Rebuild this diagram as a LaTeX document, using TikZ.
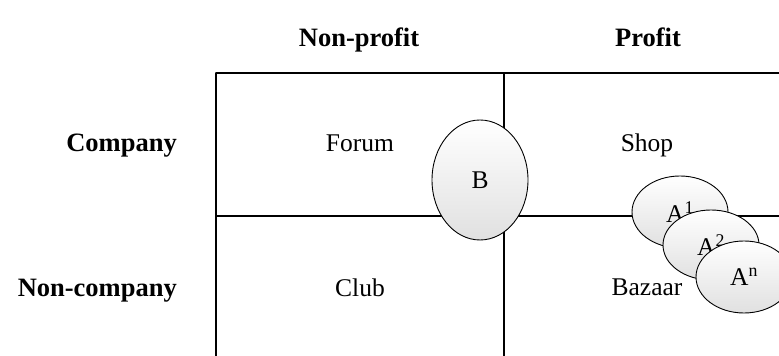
\documentclass[tikz,border=0pt]{standalone}
\usepackage{fontspec}
\setmainfont{Liberation Serif}
\usetikzlibrary{shapes.geometric}
\begin{document}
\begin{tikzpicture}[x=1pt, y=1pt, line cap=round, line join=round,
    font=\fontsize{25.5}{30}\selectfont,
    cabecera/.style={font=\fontsize{26.5}{31}\selectfont\bfseries, anchor=base, inner sep=0pt},
    casilla/.style={anchor=base},
    burbuja/.style={ellipse, draw, line width=0.9pt, inner sep=0pt,
      top color=white, bottom color=black!12,
      minimum width=96, minimum height=72}]
  \useasboundingbox (0,0) rectangle (779,356);
  % la rejilla
  \draw[line width=1.3pt] (216,283) -- (779,283);
  \draw[line width=1.3pt] (216,140) -- (779,140);
  \draw[line width=1.3pt] (216,283) -- (216,0);
  \draw[line width=1.3pt] (504,283) -- (504,0);
  % cabeceras de columnas y filas
  \node[cabecera] (nonprofit) at (359,309) {Non-profit};
  \node[cabecera] (profit) at (648,309) {Profit};
  \node[cabecera, anchor=base east] (company) at (177,204) {Company};
  \node[cabecera, anchor=base east] (noncompany) at (177,59) {Non-company};
  % las casillas
  \node[casilla] (forum) at (360,204) {Forum};
  \node[casilla] (shop) at (647,204) {Shop};
  \node[casilla] (club) at (360,59) {Club};
  \node[casilla] (bazaar) at (647,60) {Bazaar};
  % las burbujas
  \node[burbuja, minimum height=120] (b) at (480,176) {B};
  \node[burbuja] (a1) at (680,144) {A\textsuperscript{1}};
  \node[burbuja, minimum height=70] (a2) at (711,111) {A\textsuperscript{2}};
  \node[burbuja] (an) at (744,79) {A\textsuperscript{n}};
\end{tikzpicture}
\end{document}
